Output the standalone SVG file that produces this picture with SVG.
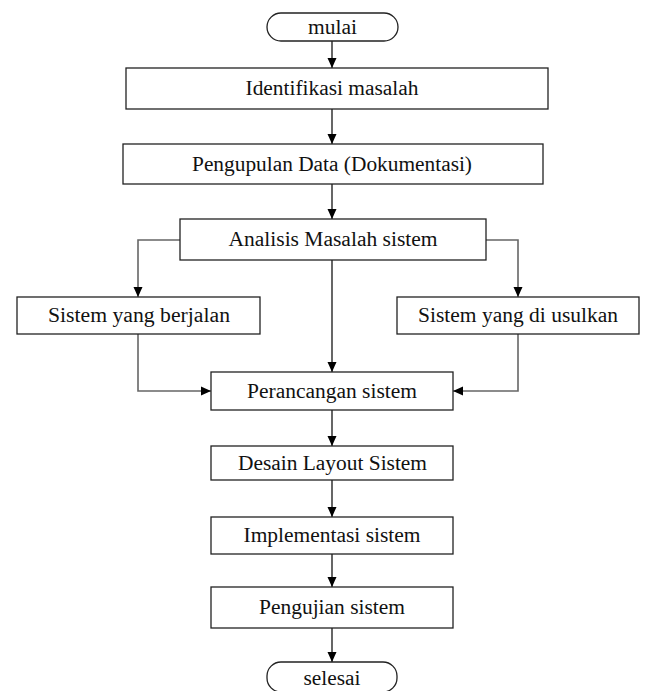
<svg xmlns="http://www.w3.org/2000/svg" width="646" height="691" viewBox="0 0 646 691">
<style>
.box{fill:#fff;stroke:#222;stroke-width:1.3}
.t{font-family:"Liberation Serif","Times New Roman",serif;font-size:20px;fill:#111;text-anchor:middle}
.c{fill:none;stroke:#000;stroke-width:1.2;marker-end:url(#ah)}
.s{fill:none;stroke:#666;stroke-width:1.6;marker-end:url(#ah)}
</style>
<defs>
<marker id="ah" markerUnits="userSpaceOnUse" markerWidth="11" markerHeight="10" refX="10" refY="5" orient="auto">
<path d="M0,0.5 L10,5 L0,9.5 z" fill="#000"/>
</marker>
</defs>
<rect width="646" height="691" fill="#fff"/>
<g id="connectors">
<line class="c" x1="332" y1="41" x2="332" y2="68"/>
<line class="c" x1="332" y1="109" x2="332" y2="144"/>
<line class="c" x1="332" y1="184" x2="332" y2="219"/>
<polyline class="s" points="180,240 138,240 138,297"/>
<polyline class="s" points="486,240 518,240 518,297"/>
<line class="c" x1="332" y1="260" x2="332" y2="372"/>
<polyline class="s" points="138,334 138,391 211,391"/>
<polyline class="s" points="518,334 518,391 453,391"/>
<line class="c" x1="332" y1="410" x2="332" y2="446"/>
<line class="c" x1="332" y1="480" x2="332" y2="517"/>
<line class="c" x1="332" y1="554" x2="332" y2="587"/>
<line class="c" x1="332" y1="628" x2="332" y2="662"/>
</g>
<g id="mulai"><rect class="box" x="267" y="13" width="131" height="28" rx="14"/><text class="t" x="332.5" y="33.5" textLength="49" lengthAdjust="spacingAndGlyphs">mulai</text></g>
<g id="identifikasi"><rect class="box" x="126" y="68" width="422" height="41"/><text class="t" x="332" y="95" textLength="173" lengthAdjust="spacingAndGlyphs">Identifikasi masalah</text></g>
<g id="pengupulan"><rect class="box" x="123" y="144" width="420" height="40"/><text class="t" x="332" y="170.5" textLength="280" lengthAdjust="spacingAndGlyphs">Pengupulan Data (Dokumentasi)</text></g>
<g id="analisis"><rect class="box" x="180" y="219" width="306" height="41"/><text class="t" x="333" y="246" textLength="209" lengthAdjust="spacingAndGlyphs">Analisis Masalah sistem</text></g>
<g id="berjalan"><rect class="box" x="17" y="297" width="243" height="37"/><text class="t" x="139" y="322" textLength="182" lengthAdjust="spacingAndGlyphs">Sistem yang berjalan</text></g>
<g id="usulkan"><rect class="box" x="397" y="297" width="242" height="37"/><text class="t" x="518" y="322" textLength="200" lengthAdjust="spacingAndGlyphs">Sistem yang di usulkan</text></g>
<g id="perancangan"><rect class="box" x="211" y="372" width="242" height="38"/><text class="t" x="332" y="397.5" textLength="170" lengthAdjust="spacingAndGlyphs">Perancangan sistem</text></g>
<g id="desain"><rect class="box" x="211" y="446" width="242" height="34"/><text class="t" x="332.5" y="469.5" textLength="189" lengthAdjust="spacingAndGlyphs">Desain Layout Sistem</text></g>
<g id="implementasi"><rect class="box" x="211" y="517" width="242" height="37"/><text class="t" x="332" y="542" textLength="177" lengthAdjust="spacingAndGlyphs">Implementasi sistem</text></g>
<g id="pengujian"><rect class="box" x="211" y="587" width="242" height="41"/><text class="t" x="332" y="614" textLength="146" lengthAdjust="spacingAndGlyphs">Pengujian sistem</text></g>
<g id="selesai"><rect class="box" x="267" y="662" width="130" height="30" rx="14"/><text class="t" x="332" y="685" textLength="57" lengthAdjust="spacingAndGlyphs">selesai</text></g>
</svg>
